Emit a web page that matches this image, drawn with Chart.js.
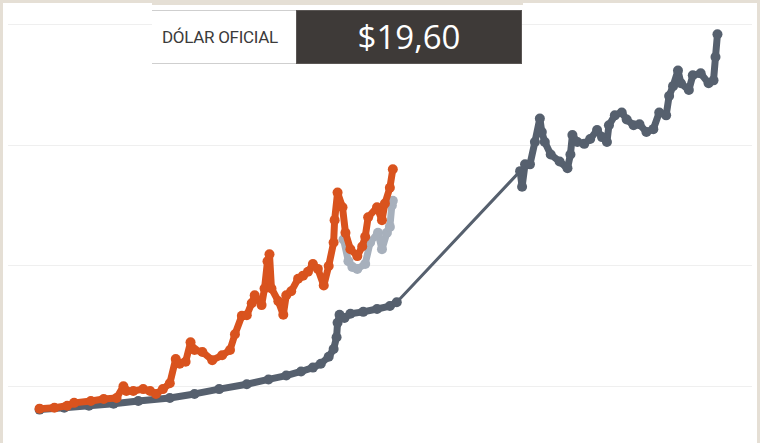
<!DOCTYPE html>
<html>
<head>
<meta charset="utf-8">
<script src="https://cdn.jsdelivr.net/npm/chart.js@4"></script>
<style>
  html, body { margin: 0; padding: 0; background: #ffffff; }
  #frame {
    position: relative;
    width: 760px;
    height: 443px;
    overflow: hidden;
    background: #ffffff;
  }
  #edge-left, #edge-right, #edge-top, #edge-tab {
    position: absolute;
    background: #e5dfd5;
  }
  #edge-left { left: 0; top: 0; width: 3px; height: 443px; }
  #edge-right { right: 0; top: 0; width: 3px; height: 443px; }
  #edge-top { left: 0; top: 0; width: 760px; height: 3px; }
  #edge-tab { left: 152px; top: 0; width: 371px; height: 5px; }
  #chart-wrap {
    position: absolute;
    left: 3px;
    top: 3px;
    width: 754px;
    height: 440px;
  }
  #kpi {
    position: absolute;
    left: 152px;
    top: 10px;
    width: 370px;
    height: 54px;
    display: flex;
  }
  #kpi-label {
    width: 134px;
    height: 52px;
    border-top: 1px solid #cfcfcf;
    border-bottom: 1px solid #cfcfcf;
    background: #ffffff;
    color: #3b3b3b;
    font-family: "Roboto", "Noto Sans", sans-serif;
    font-size: 17px;
    letter-spacing: -0.3px;
    line-height: 52px;
    padding-left: 10px;
    white-space: nowrap;
  }
  #kpi-value {
    flex: 1;
    height: 52px;
    background: #3e3a38;
    border: 1px solid #5a5654;
    color: #ffffff;
    font-family: "Open Sans", "Noto Sans", sans-serif;
    font-size: 33px;
    line-height: 52px;
    text-align: center;
  }
</style>
</head>
<body>
<div id="frame">
  <div id="chart-wrap"><canvas id="chart-dolar"></canvas></div>
  <div id="edge-left"></div>
  <div id="edge-right"></div>
  <div id="edge-top"></div>
  <div id="edge-tab"></div>
  <div id="kpi">
    <div id="kpi-label">DÓLAR OFICIAL</div>
    <div id="kpi-value">$19,60</div>
  </div>
</div>

<script>
// ------------------------------
// DATA
// ------------------------------

const gridTicks = [5, 10, 15, 20];

// official dollar
const officialX = [35, 60, 85, 110, 135, 167, 192, 217, 245, 267, 285, 300, 312, 320, 328, 333, 336, 337, 339, 344, 350, 363, 377, 390, 397,
  522, 524, 527, 532, 537, 542, 544, 547, 553, 562, 570, 573, 575, 580, 587, 593, 600, 605, 610, 612, 618, 625, 630, 637, 643, 650, 657,
  663, 670, 673, 677, 682, 685, 693, 697, 705, 713, 718, 720, 722];
const officialY = [4.05, 4.13, 4.21, 4.29, 4.41, 4.53, 4.70, 4.90, 5.10, 5.30, 5.46, 5.63, 5.79, 5.95, 6.24, 6.56, 7.05, 7.65, 7.98, 7.85, 8.02, 8.10, 8.22, 8.34, 8.50,
  13.93, 13.28, 14.21, 14.21, 15.14, 16.11, 15.55, 15.14, 14.62, 14.33, 14.05, 14.62, 15.43, 15.14, 15.06, 15.26, 15.63, 15.34, 15.14, 15.83, 16.24, 16.36, 16.07, 15.83, 15.87, 15.55, 15.67,
  16.36, 16.24, 17.04, 17.45, 18.10, 17.57, 17.29, 17.90, 17.98, 17.57, 17.69, 18.66, 19.60];

// parallel dollar
const blueX = [35, 50, 63, 70, 87, 100, 113, 120, 123, 130, 140, 147, 153, 160, 167, 173, 177, 183, 188, 192, 200, 210, 220, 228, 233,
  240, 245, 250, 253, 260, 263, 266, 268, 270, 277, 282, 285, 290, 297, 302, 307, 312, 317, 323, 328, 333, 334, 337, 342, 345,
  350, 357, 362, 365, 368, 377, 382, 385, 390, 393];
const blueY = [4.09, 4.13, 4.21, 4.33, 4.41, 4.49, 4.53, 5.02, 4.82, 4.82, 4.90, 4.82, 4.70, 4.90, 5.14, 6.15, 5.95, 6.03, 6.84, 6.52, 6.44, 6.10, 6.30, 6.52, 7.17,
  7.94, 7.96, 8.46, 8.79, 8.38, 9.07, 10.20, 10.49, 9.07, 8.54, 7.98, 8.79, 8.95, 9.47, 9.60, 9.76, 10.08, 9.88, 9.19, 10.00, 10.97, 11.90, 13.04, 12.43, 11.38,
  10.69, 10.41, 10.81, 11.21, 12.02, 12.43, 11.90, 12.59, 13.24, 14.01];

// other quote
const otherX = [343, 348, 352, 357, 365, 370, 378, 382, 387, 390, 392, 393];
const otherY = [11.10, 10.20, 9.96, 9.88, 10.08, 10.97, 11.38, 10.69, 11.38, 11.62, 12.51, 12.70];

// the stretch with no quotes is drawn thin
const gapAfterIndex = 24;


function toPoints(xs, ys) {
  return xs.map((x, i) => ({ x: x, y: ys[i] }));
}


// ------------------------------
// CHART
// ------------------------------

function lineSet(label, xs, ys, color, order, gapIndex) {
  return {
    label: label,
    data: toPoints(xs, ys),
    borderColor: color,
    backgroundColor: color,
    borderWidth: 7,
    borderJoinStyle: "round",
    borderCapStyle: "round",
    pointRadius: 5,
    pointBorderWidth: 0,
    pointHoverRadius: 5,
    tension: 0,
    order: order,
    segment: {
      borderWidth: (ctx) => (gapIndex !== undefined && ctx.p0DataIndex === gapIndex) ? 3 : undefined
    }
  };
}

new Chart(document.getElementById("chart-dolar"), {
  type: "line",
  data: {
    datasets: [
      lineSet("Dólar blue", blueX, blueY, "#d9531e", 0),
      lineSet("Otro", otherX, otherY, "#a7b0bc", 1),
      lineSet("Dólar oficial", officialX, officialY, "#56606e", 2, gapAfterIndex)
    ]
  },
  options: {
    responsive: true,
    maintainAspectRatio: false,
    animation: false,
    layout: { padding: 0 },
    plugins: {
      legend: { display: false },
      tooltip: { enabled: false }
    },
    scales: {
      x: {
        type: "linear",
        display: false,
        min: 3,
        max: 757
      },
      y: {
        type: "linear",
        min: 2.874,
        max: 20.688,
        border: { display: false },
        grid: { color: "#efefef", lineWidth: 1, drawTicks: false },
        ticks: { display: false },
        afterBuildTicks: (scale) => {
          scale.ticks = gridTicks.map(v => ({ value: v }));
        },
        afterFit: (scale) => { scale.width = 0; }
      }
    }
  }
});
</script>
</body>
</html>
